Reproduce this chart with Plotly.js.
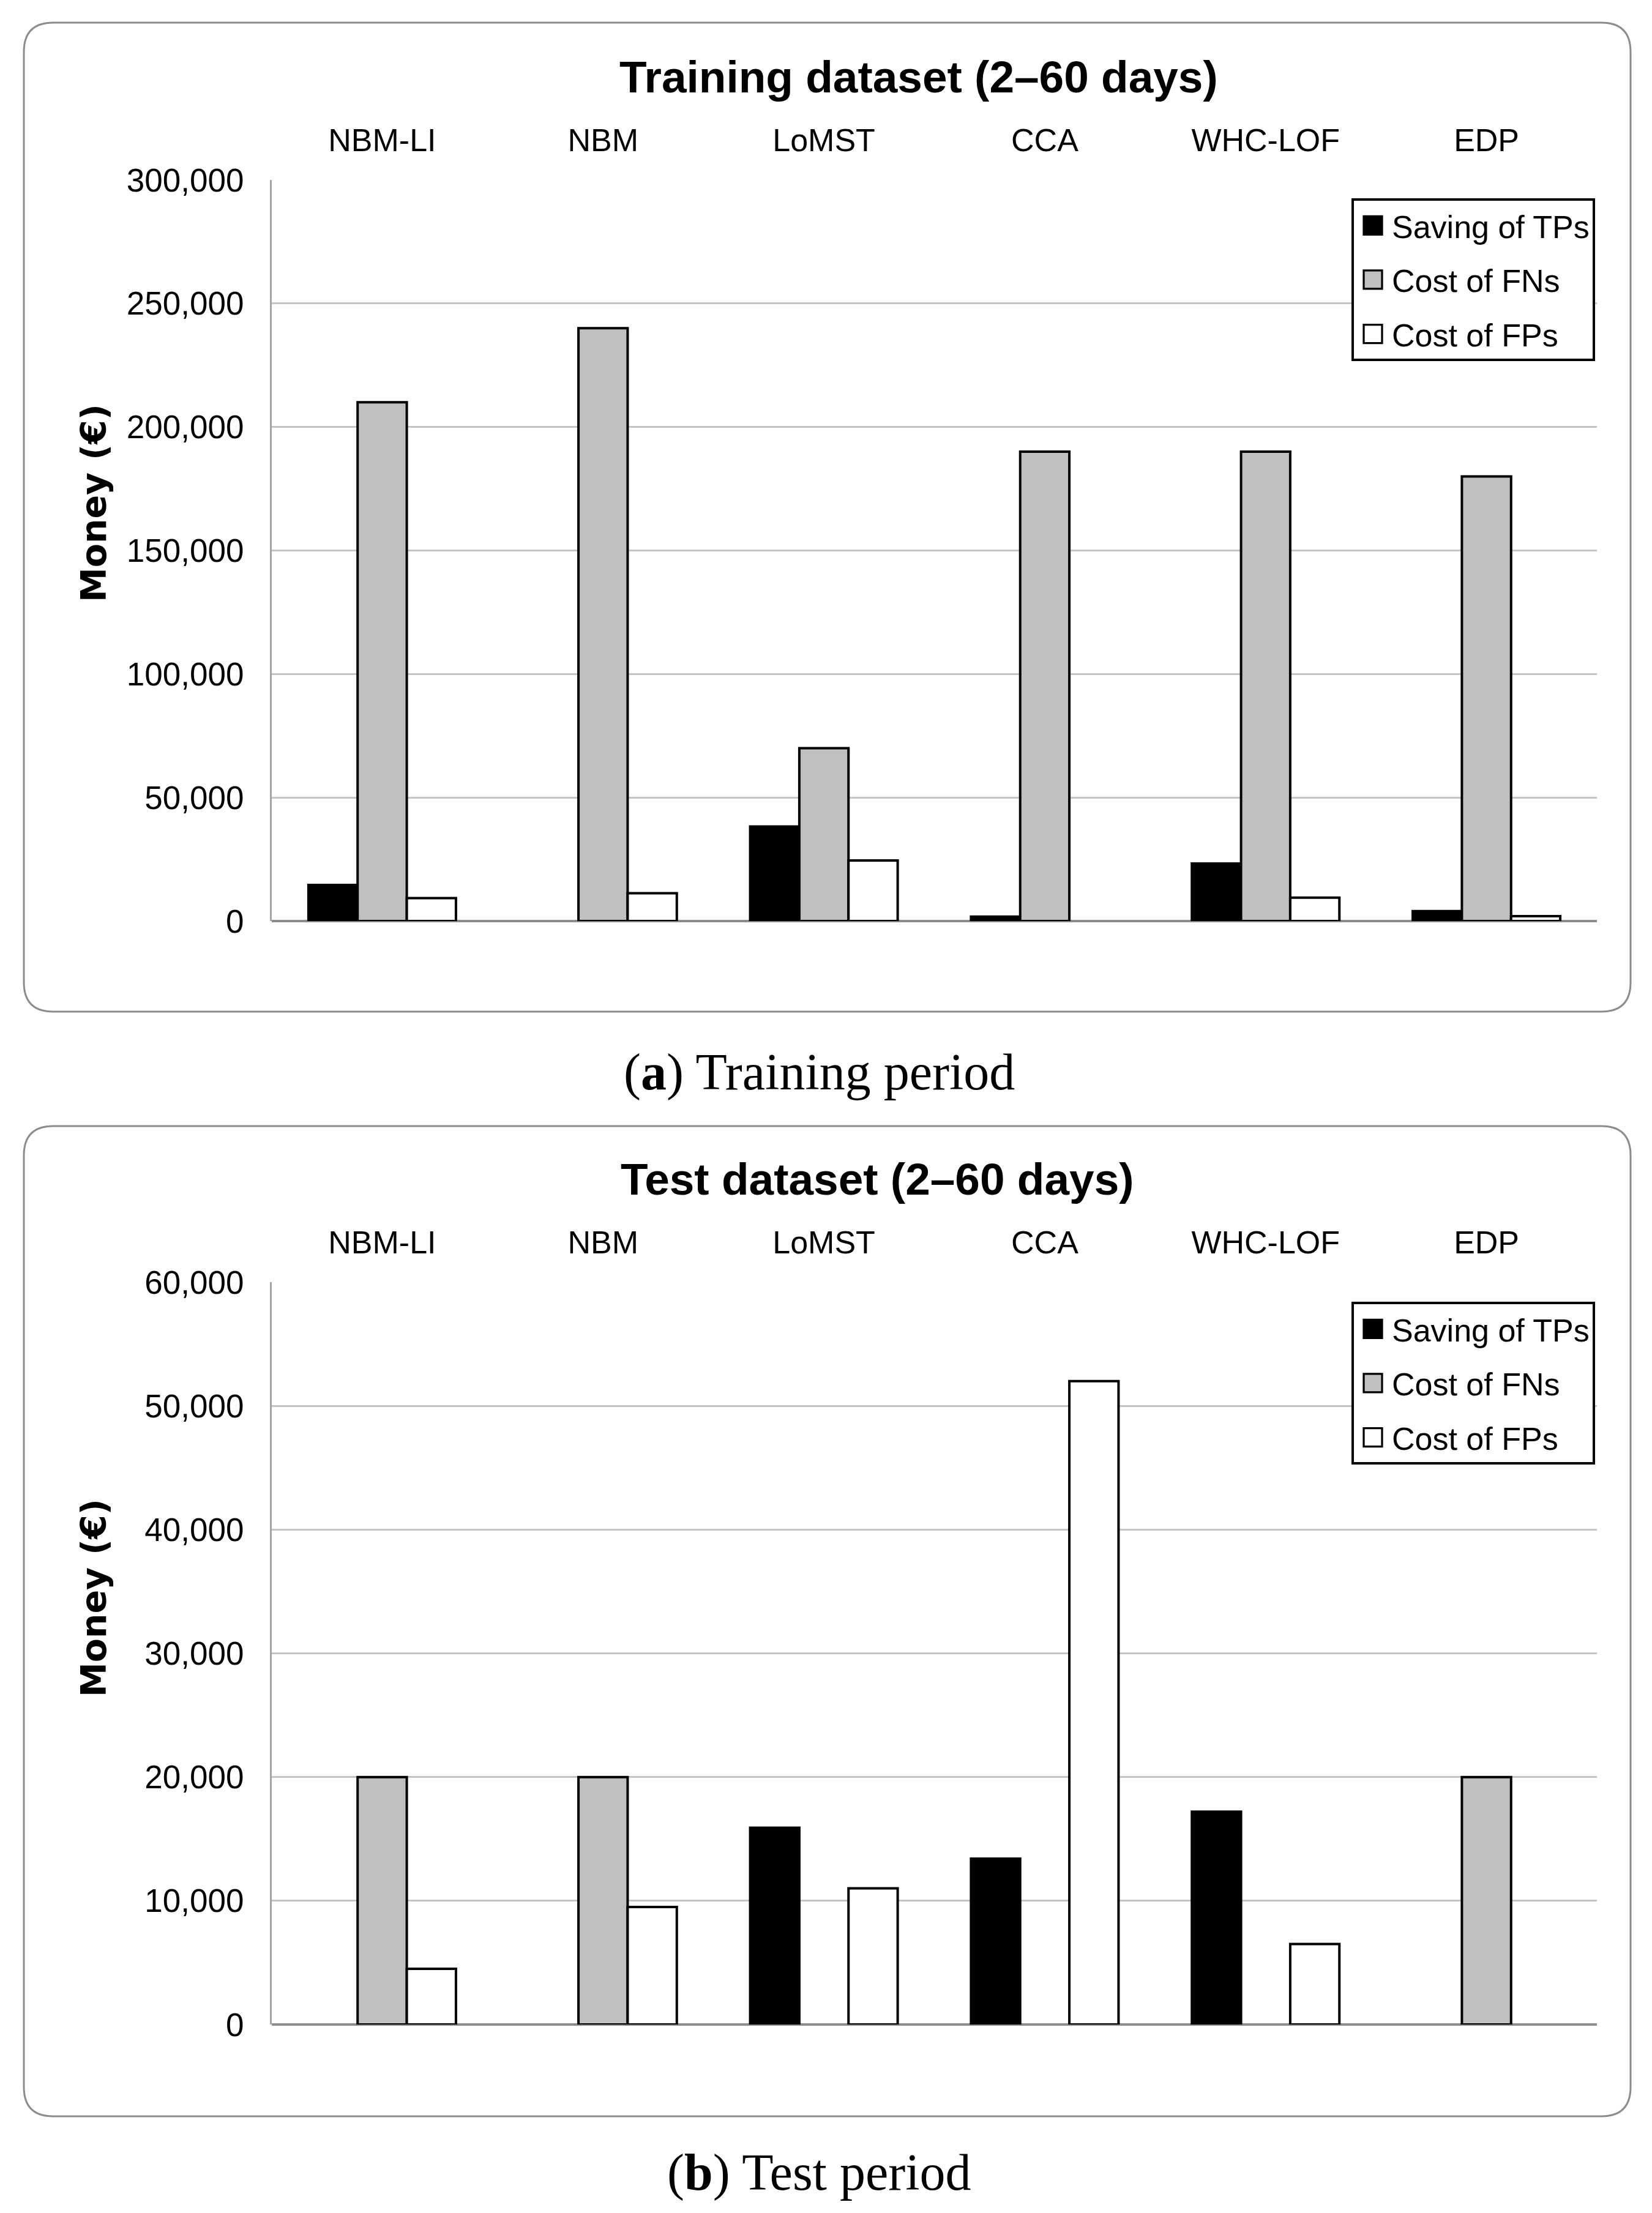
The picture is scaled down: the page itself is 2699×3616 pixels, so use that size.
<!DOCTYPE html>
<html>
<head>
<meta charset="utf-8">
<script src="https://cdn.plot.ly/plotly-3.0.1.min.js"></script>
<style>
  html, body { margin: 0; padding: 0; background: #ffffff; }
  #chart { width: 2699px; height: 3616px; }
</style>
</head>
<body>
<div id="chart"></div>
<script>
// ---- data ----
const categories = ['NBM-LI', 'NBM', 'LoMST', 'CCA', 'WHC-LOF', 'EDP'];
const seriesNames = ['Saving of TPs', 'Cost of FNs', 'Cost of FPs'];

const trainTP = [14600, 0, 38300, 1800, 23300, 4000];
const trainFN = [210000, 240000, 70000, 190000, 190000, 180000];
const trainFP = [9300, 11300, 24500, 0, 9500, 2000];

const testTP = [0, 0, 15900, 13400, 17200, 0];
const testFN = [20000, 20000, 0, 0, 0, 20000];
const testFP = [4500, 9500, 11000, 52000, 6500, 0];

const trainTitle = 'Training dataset (2–60 days)';
const testTitle = 'Test dataset (2–60 days)';
const yTitle = 'Money (€)';
const captionA = '(<b>a</b>) Training period';
const captionB = '(<b>b</b>) Test period';

// ---- styling ----
const W = 2699, H = 3616;
const FONT = 'Liberation Sans, Arial, sans-serif';
const SERIF = 'Liberation Serif, Times New Roman, serif';
const fills = ['#000000', '#c0c0c0', '#ffffff'];
const px = v => v / W;
const py = v => 1 - v / H;

function mkTrace(vals, i, xa, ya, leg) {
  return {
    type: 'bar',
    name: seriesNames[i],
    x: categories,
    y: vals,
    xaxis: xa,
    yaxis: ya,
    legend: leg,
    legendgroup: leg + i,
    marker: { color: fills[i], line: { color: '#000000', width: vals.map(v => v === 0 ? 0 : 4) } },
    hoverinfo: 'x+y+name'
  };
}

const data = [
  mkTrace(trainTP, 0, 'x', 'y', 'legend'),
  mkTrace(trainFN, 1, 'x', 'y', 'legend'),
  mkTrace(trainFP, 2, 'x', 'y', 'legend'),
  mkTrace(testTP, 0, 'x2', 'y2', 'legend2'),
  mkTrace(testFN, 1, 'x2', 'y2', 'legend2'),
  mkTrace(testFP, 2, 'x2', 'y2', 'legend2')
];

function roundedBox(x0, y0, x1, y1, r) {
  const rx = r / W, ry = r / H;
  const X0 = px(x0), X1 = px(x1), Y0 = py(y0), Y1 = py(y1);
  return 'M ' + (X0 + rx) + ',' + Y0 +
    ' L ' + (X1 - rx) + ',' + Y0 +
    ' Q ' + X1 + ',' + Y0 + ' ' + X1 + ',' + (Y0 - ry) +
    ' L ' + X1 + ',' + (Y1 + ry) +
    ' Q ' + X1 + ',' + Y1 + ' ' + (X1 - rx) + ',' + Y1 +
    ' L ' + (X0 + rx) + ',' + Y1 +
    ' Q ' + X0 + ',' + Y1 + ' ' + X0 + ',' + (Y1 + ry) +
    ' L ' + X0 + ',' + (Y0 - ry) +
    ' Q ' + X0 + ',' + Y0 + ' ' + (X0 + rx) + ',' + Y0 + ' Z';
}

const xDomain = [px(444), px(2609)];

const xCommon = {
  domain: xDomain,
  side: 'top',
  type: 'category',
  showline: false,
  showgrid: false,
  zeroline: false,
  ticks: '',
  ticklabelstandoff: 36,
  tickfont: { family: FONT, size: 52, color: '#000000' },
  fixedrange: true
};

const yCommon = {
  showline: true,
  linecolor: '#a6a6a6',
  linewidth: 3,
  showgrid: true,
  gridcolor: '#c4c4c4',
  gridwidth: 3,
  zeroline: true,
  zerolinecolor: '#8c8c8c',
  zerolinewidth: 4,
  ticks: '',
  ticklabelstandoff: 32,
  tickformat: ',d',
  tickfont: { family: FONT, size: 53, color: '#000000' },
  fixedrange: true
};

const legendCommon = {
  xref: 'paper', yref: 'paper',
  x: px(2606), xanchor: 'right',
  yanchor: 'top',
  bgcolor: '#ffffff',
  bordercolor: '#000000',
  borderwidth: 4,
  font: { family: FONT, size: 52, color: '#000000' },
  traceorder: 'grouped',
  tracegroupgap: 18,
  itemwidth: 52
};

const yTitleFont = { family: 'DejaVu Sans, Verdana, sans-serif', size: 57, color: '#000000', weight: 'bold' };
const titleFont = { family: FONT, size: 73, color: '#000000', weight: 'bold' };
const capFont = { family: SERIF, size: 84, color: '#000000' };

const layout = {
  width: W,
  height: H,
  margin: { l: 0, r: 0, t: 0, b: 0, pad: 0 },
  paper_bgcolor: '#ffffff',
  plot_bgcolor: 'rgba(0,0,0,0)',
  barmode: 'group',
  bargap: 0.332,
  bargroupgap: 0,
  showlegend: true,
  title: {
    text: trainTitle,
    x: px(1012), xanchor: 'left', xref: 'paper',
    y: py(125), yanchor: 'middle', yref: 'paper',
    font: titleFont
  },
  xaxis: Object.assign({}, xCommon, { anchor: 'y' }),
  yaxis: Object.assign({}, yCommon, { domain: [py(1505), py(294)], range: [0, 300000], dtick: 50000, anchor: 'x' }),
  xaxis2: Object.assign({}, xCommon, { anchor: 'y2' }),
  yaxis2: Object.assign({}, yCommon, { domain: [py(3308), py(2095)], range: [0, 60000], dtick: 10000, anchor: 'x2' }),
  legend: Object.assign({}, legendCommon, { y: py(324) }),
  legend2: Object.assign({}, legendCommon, { y: py(2127) }),
  shapes: [
    { type: 'path', xref: 'paper', yref: 'paper', path: roundedBox(39, 37, 2664, 1653, 48),
      line: { color: '#8c8c8c', width: 3 }, fillcolor: 'rgba(0,0,0,0)', layer: 'below' },
    { type: 'path', xref: 'paper', yref: 'paper', path: roundedBox(39, 1840, 2664, 3458, 48),
      line: { color: '#8c8c8c', width: 3 }, fillcolor: 'rgba(0,0,0,0)', layer: 'below' }
  ],
  annotations: [
    { text: testTitle, xref: 'paper', yref: 'paper', x: px(1012), y: py(1926),
      xanchor: 'left', yanchor: 'middle', showarrow: false, font: titleFont },
    { text: yTitle, xref: 'paper', yref: 'paper', x: px(153), y: py(822), textangle: -90,
      xanchor: 'center', yanchor: 'middle', showarrow: false, font: yTitleFont },
    { text: yTitle, xref: 'paper', yref: 'paper', x: px(153), y: py(2611), textangle: -90,
      xanchor: 'center', yanchor: 'middle', showarrow: false, font: yTitleFont },
    { text: captionA, xref: 'paper', yref: 'paper', x: px(1338), y: py(1752),
      xanchor: 'center', yanchor: 'middle', showarrow: false, font: capFont },
    { text: captionB, xref: 'paper', yref: 'paper', x: px(1338), y: py(3550),
      xanchor: 'center', yanchor: 'middle', showarrow: false, font: capFont }
  ]
};

Plotly.newPlot('chart', data, layout, { displayModeBar: false, staticPlot: true }).then(gd => {
  // enlarge the legend swatches (both legends) to match the reference's square keys
  gd.querySelectorAll('.legendpoints path').forEach(p => {
    const t = p.getAttribute('transform') || '';
    p.setAttribute('transform', t + ' scale(2.5)');
    p.style.strokeWidth = '1.3px';
    p.style.stroke = '#000000';
  });
});
</script>
</body>
</html>
